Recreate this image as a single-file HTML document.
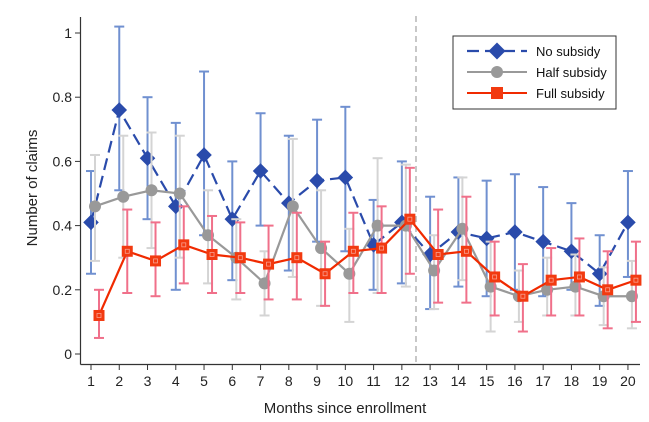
<!DOCTYPE html>
<html><head><meta charset="utf-8"><style>
body{margin:0;background:#fff}
svg{display:block;font-family:"Liberation Sans",Arial,sans-serif}
</style></head><body>
<svg id="chart" width="649" height="422">
<g id="axes"></g><g id="series"></g>
<g>
<rect x="453" y="36" width="163" height="73" fill="#fff" stroke="#333" stroke-width="1"/>
<g>
<line x1="467" y1="51" x2="527" y2="51" stroke="#2a4bab" stroke-width="2.2" stroke-dasharray="12,6"/>
<rect x="491" y="45" width="12" height="12" fill="#2a4bab" transform="rotate(45 497 51)"/>
<text x="536" y="56" font-size="13" fill="#111">No subsidy</text></g>
<g>
<line x1="467" y1="72" x2="527" y2="72" stroke="#999" stroke-width="2"/>
<circle cx="497" cy="72" r="6" fill="#999"/>
<text x="536" y="77" font-size="13" fill="#111">Half subsidy</text></g>
<g>
<line x1="467" y1="93" x2="527" y2="93" stroke="#f02a00" stroke-width="2"/>
<rect x="491" y="87" width="12" height="12" fill="#f23a10"/>
<text x="536" y="98" font-size="13" fill="#111">Full subsidy</text></g>
</g>
</svg>
<script>
const months=[1,2,3,4,5,6,7,8,9,10,11,12,13,14,15,16,17,18,19,20];
const noMean=[0.41,0.76,0.61,0.46,0.62,0.42,0.57,0.47,0.54,0.55,0.34,0.41,0.31,0.38,0.36,0.38,0.35,0.32,0.25,0.41];
const noLow=[0.25,0.51,0.42,0.20,0.37,0.23,0.40,0.26,0.35,0.32,0.20,0.22,0.14,0.21,0.18,0.20,0.18,0.20,0.15,0.24];
const noHigh=[0.57,1.02,0.80,0.72,0.88,0.60,0.75,0.68,0.73,0.77,0.48,0.60,0.49,0.55,0.54,0.56,0.52,0.47,0.37,0.57];
const halfMean=[0.46,0.49,0.51,0.50,0.37,0.30,0.22,0.46,0.33,0.25,0.40,0.40,0.26,0.39,0.21,0.18,0.20,0.21,0.18,0.18];
const halfLow=[0.29,0.30,0.33,0.30,0.22,0.17,0.12,0.24,0.15,0.10,0.19,0.21,0.14,0.23,0.07,0.10,0.12,0.12,0.09,0.08];
const halfHigh=[0.62,0.68,0.69,0.68,0.51,0.42,0.32,0.67,0.51,0.39,0.61,0.59,0.37,0.55,0.35,0.26,0.30,0.31,0.27,0.29];
const fullMean=[0.12,0.32,0.29,0.34,0.31,0.30,0.28,0.30,0.25,0.32,0.33,0.42,0.31,0.32,0.24,0.18,0.23,0.24,0.20,0.23];
const fullLow=[0.05,0.19,0.18,0.22,0.19,0.19,0.17,0.17,0.15,0.19,0.19,0.25,0.16,0.16,0.12,0.07,0.12,0.12,0.08,0.10];
const fullHigh=[0.20,0.45,0.41,0.46,0.43,0.41,0.40,0.44,0.35,0.44,0.46,0.58,0.45,0.49,0.35,0.28,0.33,0.36,0.32,0.35];
const yTicks=[0,0.2,0.4,0.6,0.8,1];
const yTickLabels=["0","0.2","0.4","0.6","0.8","1"];
const cutoffMonth=12.5;

const NS="http://www.w3.org/2000/svg";
const X=m=>91+(m-1)*28.26;
const Y=v=>354-v*321;
function mk(tag,attrs,parent){const e=document.createElementNS(NS,tag);for(const k in attrs)e.setAttribute(k,attrs[k]);parent.appendChild(e);return e;}
const ax=document.getElementById('axes'), sr=document.getElementById('series');
let e;
e=mk('line',{x1:80.5,y1:17,x2:80.5,y2:364.5,stroke:'#333','stroke-width':1.2},ax);


e=mk('line',{x1:80.5,y1:364.5,x2:640,y2:364.5,stroke:'#333','stroke-width':1.2},ax);


yTicks.forEach((t,i)=>{
 mk('line',{x1:75,x2:80.5,y1:Y(t),y2:Y(t),stroke:'#333'},ax);
 e=mk('text',{x:72,y:Y(t)+5,'text-anchor':'end','font-size':14,fill:'#222'},ax);
 e.textContent=yTickLabels[i];
 
 
});
months.forEach(m=>{
 mk('line',{x1:X(m),x2:X(m),y1:364.5,y2:370,stroke:'#333'},ax);
 e=mk('text',{x:X(m),y:386,'text-anchor':'middle','font-size':14,fill:'#222'},ax);
 e.textContent=m;
 
 
});
e=mk('text',{x:345,y:413,'text-anchor':'middle','font-size':15,fill:'#222'},ax);
e.textContent='Months since enrollment';


e=mk('text',{x:0,y:0,'text-anchor':'middle','font-size':15,fill:'#222',transform:'translate(37,188) rotate(-90)'},ax);
e.textContent='Number of claims';


e=mk('line',{x1:X(cutoffMonth),x2:X(cutoffMonth),y1:16,y2:364,stroke:'#aaa','stroke-width':1.3,'stroke-dasharray':'6,4'},ax);



function series(name,mean,lo,hi,off,barCol,lineCol,dash,marker,mCol){
 const g=mk('g',{},sr);
 
 
 months.forEach((m,i)=>{
  const x=X(m)+off;
  const b=mk('g',{stroke:barCol,'stroke-width':2},g);
  
  
  mk('line',{x1:x,x2:x,y1:Y(lo[i]),y2:Y(hi[i])},b);
  mk('line',{x1:x-5,x2:x+5,y1:Y(lo[i]),y2:Y(lo[i])},b);
  mk('line',{x1:x-5,x2:x+5,y1:Y(hi[i]),y2:Y(hi[i])},b);
 });
 const pts=months.map((m,i)=>(X(m)+off)+','+Y(mean[i])).join(' ');
 const l=mk('polyline',{points:pts,fill:'none',stroke:lineCol,'stroke-width':2.2},g);
 if(dash)l.setAttribute('stroke-dasharray',dash);
 
 
 months.forEach((m,i)=>{
  const x=X(m)+off,y=Y(mean[i]);let p;
  if(marker==='d')p=mk('rect',{x:x-5.5,y:y-5.5,width:11,height:11,fill:mCol,transform:`rotate(45 ${x} ${y})`},g);
  else if(marker==='c')p=mk('circle',{cx:x,cy:y,r:6,fill:mCol},g);
  else{p=mk('rect',{x:x-5.5,y:y-5.5,width:11,height:11,fill:mCol},g);mk('rect',{x:x-2,y:y-2,width:4,height:4,fill:'none',stroke:'#f9a090','stroke-width':0.8},g);}
  
  
 });
}
series('no-subsidy',noMean,noLow,noHigh,0,'#7090d0','#2a4bab','12,6','d','#2a4bab');
series('half-subsidy',halfMean,halfLow,halfHigh,4,'#d4d4d4','#999','', 'c','#999');
series('full-subsidy',fullMean,fullLow,fullHigh,8,'#f0708a','#f02a00','', 's','#f23a10');
</script>
</body></html>
